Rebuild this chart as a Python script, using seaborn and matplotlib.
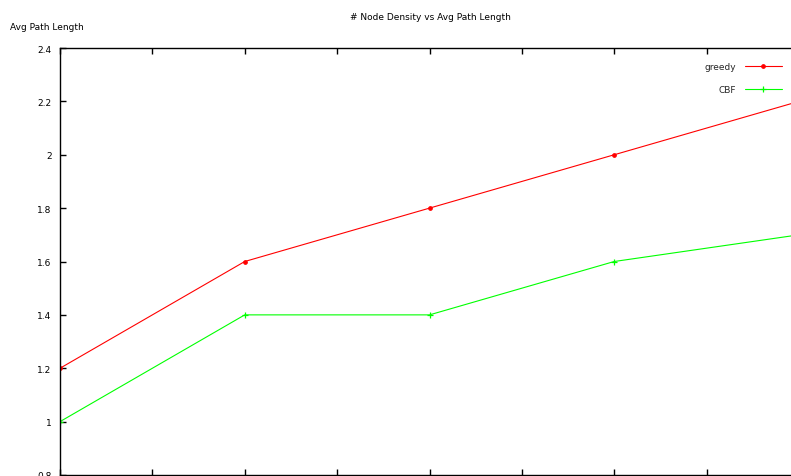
import matplotlib
matplotlib.use("Agg")
import matplotlib.pyplot as plt
import seaborn as sns
import pandas as pd

# Node density settings and measured average path lengths
node_density = [10, 20, 30, 40, 50]
greedy = [1.2, 1.6, 1.8, 2.0, 2.2]
cbf = [1.0, 1.4, 1.4, 1.6, 1.7]

series_names = ["greedy", "CBF"]
series_colors = {"greedy": "#ff0000", "CBF": "#00ff00"}

y_ticks = [0.8, 1.0, 1.2, 1.4, 1.6, 1.8, 2.0, 2.2, 2.4]
y_tick_labels = ["0.8", "1", "1.2", "1.4", "1.6", "1.8", "2", "2.2", "2.4"]
x_ticks = [10, 15, 20, 25, 30, 35, 40, 45, 50]

df = pd.concat([
    pd.DataFrame({"density": node_density, "length": greedy, "method": "greedy"}),
    pd.DataFrame({"density": node_density, "length": cbf, "method": "CBF"}),
])

sns.set_style("white")
plt.rcParams["font.family"] = ["DejaVu Sans"]
plt.rcParams["font.size"] = 6.5

W, H = 791, 477
fig = plt.figure(figsize=(W / 100, H / 100), dpi=100)
# plot frame: left edge at x=60, top at y=49, bottom at y=476, right at x=799 (past the canvas)
ax = fig.add_axes([60 / W, 1 / H, (799 - 60) / W, (476 - 49) / H])

for name in series_names:
    sub = df[df["method"] == name]
    sns.lineplot(data=sub, x="density", y="length", ax=ax, color=series_colors[name],
                 linewidth=0.8, marker="o" if name == "greedy" else "+",
                 markersize=2.5 if name == "greedy" else 5, markeredgewidth=0.9,
                 markeredgecolor=series_colors[name], label=name)

ax.set_xlim(10, 50)
ax.set_ylim(0.8, 2.4)
ax.set_xticks(x_ticks)
ax.set_yticks(y_ticks)
ax.set_yticklabels(y_tick_labels)
ax.set_xlabel("")
ax.set_ylabel("")

for s in ax.spines.values():
    s.set_color("black")
    s.set_linewidth(1.0)

ax.tick_params(axis="both", direction="in", length=4, width=1.0, color="black",
               labelsize=6.5, labelcolor="black")
ax.tick_params(axis="y", pad=6, left=True, right=True)
ax.tick_params(axis="x", top=True, bottom=True, labelbottom=False)

fig.text(430 / W, 1 - 17 / H, "# Node Density vs Avg Path Length", ha="center", va="center",
         fontsize=6.5, color="black")
fig.text(10 / W, 1 - 27 / H, "Avg Path Length", ha="left", va="center",
         fontsize=6.5, color="black")

leg = ax.legend(loc="upper right", bbox_to_anchor=(782 / W, 1 - 63 / H),
                bbox_transform=fig.transFigure, frameon=False, markerfirst=False,
                handlelength=4.1, handletextpad=1.0, labelspacing=1.6,
                borderpad=0, borderaxespad=0, fontsize=6.5)

fig.savefig("out.png", dpi=100)
